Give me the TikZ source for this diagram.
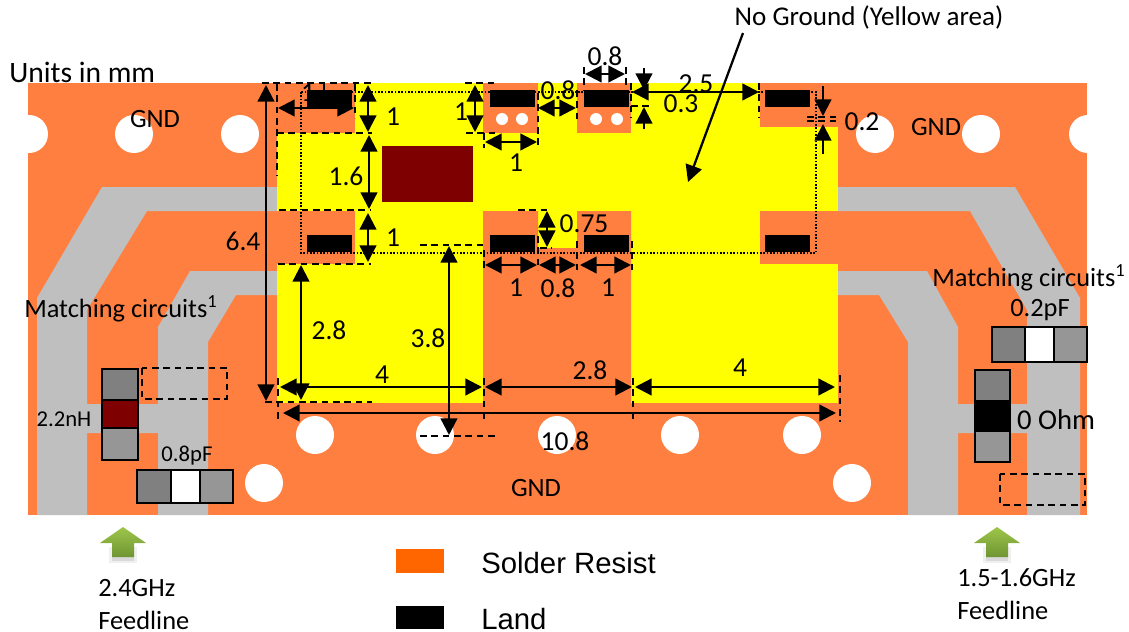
\documentclass[tikz,border=0pt]{standalone}
\usepackage{fontspec}
\setmainfont{Carlito}
\newfontfamily\arialf{Liberation Sans}
\usetikzlibrary{arrows.meta}
\definecolor{boardor}{HTML}{FF7F41}
\definecolor{legor}{HTML}{FF6600}
\definecolor{trace}{HTML}{BFBFBF}
\definecolor{chipa}{HTML}{808080}
\definecolor{chipb}{HTML}{969696}
\definecolor{darkred}{HTML}{7F0000}
\definecolor{noground}{HTML}{FFFF00}
\definecolor{feedtop}{HTML}{9DC64A}
\definecolor{feedbot}{HTML}{6F9533}
\tikzset{
  px/.style={x=0.75pt,y=-0.75pt},
  dim/.style={line width=1.7pt,{Triangle[length=12.5pt,width=12.5pt]}-{Triangle[length=12.5pt,width=12.5pt]}},
  dimone/.style={line width=1.7pt,-{Triangle[length=12.5pt,width=12.5pt]}},
  tick/.style={line width=1pt,dash pattern=on 5pt off 3.5pt},
  dots/.style={line width=1pt,dash pattern=on 1.2pt off 1.3pt},
  lab/.style={inner sep=0pt,font=\fontsize{19.8}{22}\selectfont},
  numlab/.style={inner sep=0pt,font=\fontsize{20.6}{23}\selectfont},
  smalllab/.style={inner sep=0pt,font=\fontsize{17}{20}\selectfont},
  leg/.style={inner sep=0pt,anchor=west,font=\arialf\fontsize{22}{26}\selectfont},
  chip/.style={draw=black,line width=1.2pt}
}
\begin{document}
\begin{tikzpicture}[px]
\useasboundingbox (0,0) rectangle (1129,632);
% board
\fill[boardor] (28,83) rectangle (1087,515);
% traces
\fill[trace] (102,187) -- (277,187) -- (277,211) -- (147,211) -- (87,310) -- (87,404) -- (158,404) -- (158,327) -- (190,271) -- (277,271) -- (277,295) -- (236,295) -- (208,342) -- (208,515) -- (158,515) -- (158,433) -- (87,433) -- (87,515) -- (37,515) -- (37,298) -- cycle;
\fill[trace] (1015,187) -- (838,187) -- (838,211) -- (970,211) -- (1027,310) -- (1027,404) -- (958,404) -- (958,327) -- (927,271) -- (838,271) -- (838,295) -- (879,295) -- (908,342) -- (908,515) -- (958,515) -- (958,433) -- (1027,433) -- (1027,515) -- (1080,515) -- (1080,298) -- cycle;
% holes
\begin{scope}
\clip (28,83) rectangle (1087,515);
\foreach \hx/\hy in {29/134,134/134,240/134,875/134,981/134,1088/134,315/435,435/435,557/435,680/435,802/435,264/483,852/483}
  \fill[white] (\hx,\hy) circle (19);
\end{scope}
% yellow no-ground area
\fill[noground] (277,83) rectangle (838,403);
\fill[boardor] (277,83) rectangle (355,133);
\fill[boardor] (483,83) rectangle (538,133);
\fill[boardor] (577,83) rectangle (631,133);
\fill[boardor] (760,83) rectangle (838,127);
\fill[boardor] (277,211) rectangle (355,264);
\fill[boardor] (760,211) rectangle (838,264);
\fill[boardor] (483,211) -- (538,211) -- (538,248) -- (577,248) -- (577,211) -- (631,211) -- (631,403) -- (483,403) -- cycle;
\foreach \hx in {502,522,596,617} \fill[white] (\hx,119) circle (6);
% label partly hidden behind the land
\node[numlab] (lone) at (308,93) {1};
% lands
\foreach \lx in {307,490,584,765} {
  \fill[black] (\lx,90) rectangle ++(44.5,17);
  \fill[black] (\lx,235) rectangle ++(44.5,17);
}
\fill[darkred] (382,146) rectangle (473,202);
\draw[dots] (301,92) rectangle (816,253);
% extension lines
\draw[tick] (262,83) -- (375,83);
\draw[tick] (465,83) -- (497,83);
\draw[tick] (324,83) -- (324,90);
\draw[tick] (277,84) -- (277,175);
\draw[tick] (355,84) -- (355,118);
\draw[tick] (277,133) -- (372,133);
\draw[tick] (466,133) -- (497,133);
\draw[tick] (279,210) -- (371,210);
\draw[tick] (278,264) -- (371,264);
\draw[tick] (265,402) -- (372,402);
\draw[tick] (484,133) -- (484,148);
\draw[tick] (538,93) -- (538,148);
\draw[tick] (577,90) -- (577,120);
\draw[tick] (584,67) -- (584,90);
\draw[tick] (626,67) -- (626,90);
\draw[tick] (631,83) -- (631,118);
\draw[tick] (759,83) -- (759,118);
\draw[tick] (631,106) -- (652,106);
\draw[tick] (807,117) -- (838,117);
\draw[tick] (807,121) -- (838,121);
\draw[tick] (518,210) -- (548,210);
\draw[tick] (540,248) -- (552,248);
\draw[tick] (420,245) -- (483,245);
\draw[tick] (420,436) -- (498,436);
\draw[tick] (484,250) -- (484,270);
\draw[tick] (538,236) -- (538,270);
\draw[tick] (577,241) -- (577,270);
\draw[tick] (632,241) -- (632,270);
\draw[tick] (278,378) -- (278,423);
\draw[tick] (484,378) -- (484,423);
\draw[tick] (633,378) -- (633,423);
\draw[tick] (840,375) -- (840,422);
% dimension arrows
\draw[dim] (266,85) -- (266,401);
\draw[dim] (278,108) -- (354,108);
\draw[dim] (368,85) -- (368,132);
\draw[dim] (369,135) -- (369,209);
\draw[dim] (368,213) -- (368,262);
\draw[dim] (475,85) -- (475,132);
\draw[dim] (485,142) -- (537,142);
\draw[dim] (538,108) -- (576,108);
\draw[dim] (585,74) -- (625,74);
\draw[dim] (632,92) -- (759,92);
\draw[dimone] (644,68) -- (644,90);
\draw[dimone] (644,129) -- (644,107);
\draw[dimone] (823,86) -- (823,116);
\draw[dimone] (823,154) -- (823,124);
\draw[dim] (547,211) -- (547,247);
\draw[dim] (485,265) -- (537,265);
\draw[dim] (539,265) -- (576,265);
\draw[dim] (580,265) -- (631,265);
\draw[dim] (449,246) -- (449,435);
\draw[dim] (301,265) -- (301,400);
\draw[dim] (280,387) -- (482,387);
\draw[dim] (485,387) -- (632,387);
\draw[dim] (635,387) -- (835,387);
\draw[dim] (283,413) -- (836,413);
\draw[dimone] (743,33) -- (688,182);
% dimension labels
\node[numlab] (d64) at (243,241) {6.4};
\node[numlab] (d1a) at (393,117) {1};
\node[numlab] (d16) at (346,176) {1.6};
\node[numlab] (d1b) at (393,238) {1};
\node[numlab] (d1c) at (461,112) {1};
\node[numlab] (d1d) at (516,163) {1};
\node[numlab] (d08a) at (558,90) {0.8};
\node[numlab] (d08b) at (605,56) {0.8};
\node[numlab] (d25) at (696,84) {2.5};
\node[numlab] (d03) at (681,104) {0.3};
\node[numlab] (d02) at (862,122) {0.2};
\node[numlab] (d075) at (584,224) {0.75};
\node[numlab] (d1e) at (516,288) {1};
\node[numlab] (d08c) at (558,288) {0.8};
\node[numlab] (d1f) at (608,288) {1};
\node[numlab] (d28a) at (329,330) {2.8};
\node[numlab] (d38) at (428,338) {3.8};
\node[numlab] (d4a) at (382,375) {4};
\node[numlab] (d28b) at (590,370) {2.8};
\node[numlab] (d4b) at (740,368) {4};
\node[numlab] (d108) at (565,441) {10.8};
% text labels
\node[lab,font=\fontsize{20.3}{23}\selectfont] (noground) at (869,17) {No Ground (Yellow area)};
\node[lab,anchor=west,font=\fontsize{22.2}{25}\selectfont] (units) at (9,72) {Units in mm};
\node[lab] (gnda) at (155,119) {GND};
\node[lab] (gndb) at (936,127) {GND};
\node[lab] (gndc) at (536,488) {GND};
\node[lab,anchor=west] (mca) at (24,309) {Matching circuits\textsuperscript{1}};
\node[lab,anchor=west] (mcb) at (932,278) {Matching circuits\textsuperscript{1}};
% chips
\draw[tick] (142,368) rectangle (227,399);
\draw[tick] (1000,474) rectangle (1085,505);
\filldraw[chip,fill=chipa] (102,369) rectangle (138,400);
\filldraw[chip,fill=darkred] (102,400) rectangle (138,428);
\filldraw[chip,fill=chipb] (102,428) rectangle (138,460);
\filldraw[chip,fill=chipa] (137,470) rectangle (171,503);
\filldraw[chip,fill=white] (171,470) rectangle (200,503);
\filldraw[chip,fill=chipb] (200,470) rectangle (233,503);
\filldraw[chip,fill=chipa] (992,327) rectangle (1025,362);
\filldraw[chip,fill=white] (1025,327) rectangle (1054,362);
\filldraw[chip,fill=chipb] (1054,327) rectangle (1087,362);
\filldraw[chip,fill=chipa] (975,370) rectangle (1010,401);
\filldraw[chip,fill=black] (975,401) rectangle (1010,431);
\filldraw[chip,fill=chipb] (975,431) rectangle (1010,462);
\node[smalllab] (l22) at (64,419) {2.2nH};
\node[smalllab] (l08) at (187,456) {0.8pF};
\node[lab] (l02) at (1040,310) {0.2pF};
\node[lab,font=\fontsize{21.5}{24}\selectfont] (l0) at (1056,420) {0 Ohm};
% feedline arrows
\foreach \fx in {123,997} {
  \fill[gray,opacity=.12] (\fx-14,547) rectangle (\fx+14,563);
  \fill[gray,opacity=.2] (\fx-11,549) rectangle (\fx+11,561);
  \shade[top color=feedtop,bottom color=feedbot] (\fx,527) -- (\fx+23,543) -- (\fx+11,543) -- (\fx+11,557) -- (\fx-11,557) -- (\fx-11,543) -- (\fx-23,543) -- cycle;
}
\node[lab,anchor=west] (fa) at (98,588) {2.4GHz};
\node[lab,anchor=west] (fb) at (98,620) {Feedline};
\node[lab,anchor=west] (fc) at (957,578) {1.5-1.6GHz};
\node[lab,anchor=west] (fd) at (957,610) {Feedline};
% legend
\fill[legor] (396,549) rectangle (444,573);
\fill[black] (396,606) rectangle (444,629);
\node[leg] (ls) at (481,563) {Solder Resist};
\node[leg] (ll) at (481,619) {Land};
\end{tikzpicture}
\end{document}
